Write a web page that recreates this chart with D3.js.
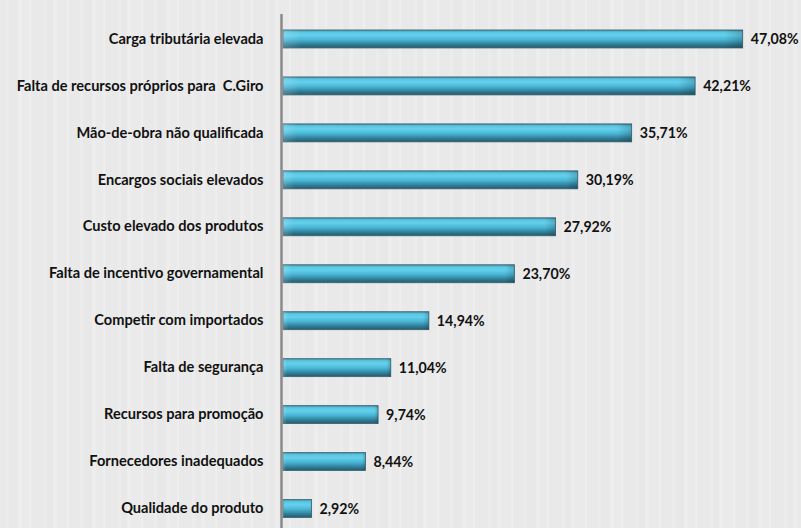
<!DOCTYPE html>
<html>
<head>
<meta charset="utf-8">
<script src="https://cdn.jsdelivr.net/npm/d3@7"></script>
<style>
  html, body { margin: 0; padding: 0; background: #ebebeb; }
  svg { display: block; }
  text { font-family: "Lato", "Open Sans", sans-serif; font-weight: 700; fill: #111; }
</style>
</head>
<body>
<svg id="chart" width="801" height="528"></svg>
<script>
// Obstacles listed, top to bottom
const categories = [
  "Carga tributária elevada",
  "Falta de recursos próprios para  C.Giro",
  "Mão-de-obra não qualificada",
  "Encargos sociais elevados",
  "Custo elevado dos produtos",
  "Falta de incentivo governamental",
  "Competir com importados",
  "Falta de segurança",
  "Recursos para promoção",
  "Fornecedores inadequados",
  "Qualidade do produto"
];
const values = [47.08, 42.21, 35.71, 30.19, 27.92, 23.70, 14.94, 11.04, 9.74, 8.44, 2.92];
const valueLabels = ["47,08%", "42,21%", "35,71%", "30,19%", "27,92%", "23,70%", "14,94%", "11,04%", "9,74%", "8,44%", "2,92%"];

const W = 801, H = 528;
const svg = d3.select("#chart");
const defs = svg.append("defs");

// faint vertical streaks in the backdrop
const stripeWidths = [6, 3, 9, 4, 7, 2, 5, 8, 3, 6, 4, 10, 2, 5];
const stripeShades = ["#e9e9e9", "#ececec", "#e8e8e8", "#ededed", "#eaeaea", "#eeeeee", "#e9e9e9"];
const pat = defs.append("pattern").attr("id", "streaks").attr("patternUnits", "userSpaceOnUse")
  .attr("width", d3.sum(stripeWidths)).attr("height", H);
let sx = 0;
stripeWidths.forEach((w, i) => {
  pat.append("rect").attr("x", sx).attr("y", 0).attr("width", w).attr("height", H)
    .attr("fill", stripeShades[i % stripeShades.length]);
  sx += w;
});
svg.append("rect").attr("width", W).attr("height", H).attr("fill", "url(#streaks)");

// cylinder shading for the bars
const grad = defs.append("linearGradient").attr("id", "barGrad")
  .attr("x1", 0).attr("y1", 0).attr("x2", 0).attr("y2", 1);
[[0, "#3f8aa0"], [0.12, "#5cc6e2"], [0.3, "#62d0ec"], [0.55, "#49b3d3"], [0.8, "#2f7f98"], [1, "#24596b"]]
  .forEach(([o, c]) => grad.append("stop").attr("offset", o).attr("stop-color", c));
const endGrad = defs.append("linearGradient").attr("id", "endGrad")
  .attr("x1", 0).attr("y1", 0).attr("x2", 1).attr("y2", 0);
[[0, "#ffffff", 0.18], [0.04, "#ffffff", 0], [0.96, "#000000", 0], [1, "#000000", 0.18]]
  .forEach(([o, c, a]) => endGrad.append("stop").attr("offset", o).attr("stop-color", c).attr("stop-opacity", a));

const x = d3.scaleLinear().domain([0, 50]).range([283, 283 + 488.2]);
const y = d3.scaleBand().domain(categories).range([1, 546.5]).paddingInner(0.617).paddingOuter(0.617);

const bars = svg.append("g").selectAll("g").data(categories).join("g");
bars.append("rect")
  .attr("x", x(0)).attr("y", d => y(d))
  .attr("width", (d, i) => x(values[i]) - x(0))
  .attr("height", y.bandwidth())
  .attr("fill", "url(#barGrad)")
  .attr("stroke", "#3d6372").attr("stroke-width", 0.8);
bars.append("rect")
  .attr("x", x(0)).attr("y", d => y(d))
  .attr("width", (d, i) => x(values[i]) - x(0))
  .attr("height", y.bandwidth())
  .attr("fill", "url(#endGrad)");

// value labels
svg.append("g").selectAll("text").data(categories).join("text")
  .attr("x", (d, i) => x(values[i]) + 8)
  .attr("y", d => y(d) + y.bandwidth() / 2)
  .attr("dy", "0.35em")
  .style("font-size", "14.2px")
  .text((d, i) => valueLabels[i]);

// category axis
const axis = d3.axisLeft(y).tickSize(0).tickPadding(18);
const gAxis = svg.append("g").attr("transform", `translate(${x(0) - 1.5},0)`).call(axis);
gAxis.select(".domain").remove();
gAxis.selectAll("text").style("font-size", "14.6px").style("font-family", "Lato, 'Open Sans', sans-serif")
  .style("font-weight", 700).attr("fill", "#111").style("white-space", "pre");
svg.append("line").attr("x1", x(0) - 1.5).attr("x2", x(0) - 1.5).attr("y1", 14).attr("y2", H)
  .attr("stroke", "#8a8a8a").attr("stroke-width", 2.5);
</script>
</body>
</html>
